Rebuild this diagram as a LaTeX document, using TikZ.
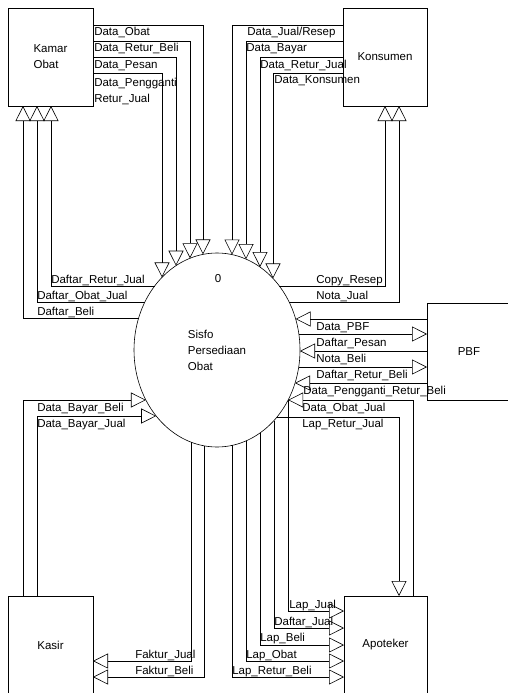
\documentclass[tikz,border=0pt]{standalone}
\usepackage{fontspec}
\setmainfont{Liberation Sans}
\usetikzlibrary{arrows.meta,shapes.geometric}

\begin{document}
\begin{tikzpicture}[x=1pt, y=-1pt, line width=0.6pt,
    font=\fontsize{11.5}{16}\selectfont,
    box/.style={draw, rectangle, minimum width=85pt, minimum height=98pt, inner sep=0pt, outer sep=0pt, align=left},
    proses/.style={draw, ellipse, minimum width=166pt, minimum height=194pt, inner sep=0pt, outer sep=0pt, align=left},
    lbl/.style={anchor=base west, inner sep=0pt},
    flow/.style={-{Triangle[open, length=15pt, width=15pt]}}]

    \clip (0,0) rectangle (508,693);

    % entitas luar
    \node[box] (kamar) at (50.5,57) {Kamar\\Obat};
    \node[box, minimum width=84pt] (konsumen) at (385,57) {Konsumen};
    \node[box, minimum width=84pt, minimum height=97pt] (pbf) at (469,351.5) {PBF};
    \node[box] (kasir) at (50.5,645) {Kasir};
    \node[box, minimum width=83pt] (apoteker) at (385.5,645) {Apoteker};

    % proses
    \node[proses] (proc) at (217,350) {Sisfo\\Persediaan\\Obat};
    \node[anchor=base, inner sep=0pt] (nomor) at (218,282) {0};

    % titik pada tepi proses
    \coordinate (a1) at (162,277.4);
    \coordinate (a2) at (176,265.7);
    \coordinate (a3) at (190,258.3);
    \coordinate (a4) at (203,254.4);
    \coordinate (b1) at (232,254.6);
    \coordinate (b2) at (246,259.1);
    \coordinate (b3) at (260,267);
    \coordinate (b4) at (273,278.4);
    \coordinate (c1) at (154.6,286);
    \coordinate (c2) at (144.9,302);
    \coordinate (c3) at (138.6,318);
    \coordinate (g1) at (145.9,400);
    \coordinate (g2) at (156.2,416);
    \coordinate (d1) at (279.4,286);
    \coordinate (d2) at (289.1,302);
    \coordinate (e1) at (295.6,319);
    \coordinate (e2) at (298.9,334);
    \coordinate (e3) at (300,351);
    \coordinate (e4) at (298.7,367);
    \coordinate (e5) at (295,383);
    \coordinate (e6) at (288.1,400);
    \coordinate (e7) at (277,417);
    \coordinate (h1) at (191,442.1);
    \coordinate (h2) at (204,445.8);
    \coordinate (f1) at (232,445.4);
    \coordinate (f2) at (246,440.9);
    \coordinate (f3) at (260,433);
    \coordinate (f4) at (274,420.5);
    \coordinate (f5) at (288,400.2);

    % Kamar Obat
    \draw[flow] ([yshift=-17pt]kamar.north east) -| (a4);
    \draw[flow] ([yshift=-33pt]kamar.north east) -| (a3);
    \draw[flow] ([yshift=-49pt]kamar.north east) -| (a2);
    \draw[flow] ([yshift=-65pt]kamar.north east) -| (a1);
    \draw[flow] (c1) -| ([xshift=43pt]kamar.south west);
    \draw[flow] (c2) -| ([xshift=29pt]kamar.south west);
    \draw[flow] (c3) -| ([xshift=15pt]kamar.south west);
    \node[lbl] (l1) at (94,36) {Data\_Obat};
    \node[lbl] (l2) at (94,52) {Data\_Retur\_Beli};
    \node[lbl] (l3) at (94,68) {Data\_Pesan};
    \node[lbl, anchor=north west, align=left] (l4) at (94,77.5) {Data\_Pengganti\\Retur\_Jual};
    \node[lbl] (l5) at (51,283) {Daftar\_Retur\_Jual};
    \node[lbl] (l6) at (37,299) {Daftar\_Obat\_Jual};
    \node[lbl] (l7) at (37,315) {Daftar\_Beli};

    % Konsumen
    \draw[flow] ([yshift=-17pt]konsumen.north west) -| (b1);
    \draw[flow] ([yshift=-33pt]konsumen.north west) -| (b2);
    \draw[flow] ([yshift=-49pt]konsumen.north west) -| (b3);
    \draw[flow] ([yshift=-65pt]konsumen.north west) -| (b4);
    \draw[flow] (d1) -| ([xshift=42pt]konsumen.south west);
    \draw[flow] (d2) -| ([xshift=56pt]konsumen.south west);
    \node[lbl] (k1) at (247,36) {Data\_Jual/Resep};
    \node[lbl] (k2) at (246,52) {Data\_Bayar};
    \node[lbl] (k3) at (260,68) {Data\_Retur\_Jual};
    \node[lbl] (k4) at (274,84) {Data\_Konsumen};
    \node[lbl] (k5) at (316,283) {Copy\_Resep};
    \node[lbl] (k6) at (316,299) {Nota\_Jual};

    % PBF
    \draw[flow] ([yshift=-16pt]pbf.north west) -- (e1);
    \draw[flow] (e2) -- ([yshift=-31pt]pbf.north west);
    \draw[flow] ([yshift=-48pt]pbf.north west) -- (e3);
    \draw[flow] (e4) -- ([yshift=-64pt]pbf.north west);
    \draw[flow] ([yshift=-80pt]pbf.north west) -- (e5);
    \node[lbl] (p1) at (316,330) {Data\_PBF};
    \node[lbl] (p2) at (316,346) {Daftar\_Pesan};
    \node[lbl] (p3) at (316,362) {Nota\_Beli};
    \node[lbl] (p4) at (316,378) {Daftar\_Retur\_Beli};
    \node[lbl] (p5) at (303,394) {Data\_Pengganti\_Retur\_Beli};

    % Apoteker
    \draw[flow] ([xshift=69pt]apoteker.north west) |- (e6);
    \draw[flow] (e7) -| ([xshift=55pt]apoteker.north west);
    \draw[flow] (f5) |- ([yshift=-15pt]apoteker.north west);
    \draw[flow] (f4) |- ([yshift=-32pt]apoteker.north west);
    \draw[flow] (f3) |- ([yshift=-49pt]apoteker.north west);
    \draw[flow] (f2) |- ([yshift=-65pt]apoteker.north west);
    \draw[flow] (f1) |- ([yshift=-81pt]apoteker.north west);
    \node[lbl] (t1) at (302,411) {Data\_Obat\_Jual};
    \node[lbl] (t2) at (302,427) {Lap\_Retur\_Jual};
    \node[lbl] (t3) at (289,608) {Lap\_Jual};
    \node[lbl] (t4) at (274,625) {Daftar\_Jual};
    \node[lbl] (t5) at (260,641) {Lap\_Beli};
    \node[lbl] (t6) at (246,658) {Lap\_Obat};
    \node[lbl] (t7) at (232,674) {Lap\_Retur\_Beli};

    % Kasir
    \draw[flow] ([xshift=15pt]kasir.north west) |- (g1);
    \draw[flow] ([xshift=29pt]kasir.north west) |- (g2);
    \draw[flow] (h1) |- ([yshift=-65pt]kasir.north east);
    \draw[flow] (h2) |- ([yshift=-81pt]kasir.north east);
    \node[lbl] (s1) at (37,411) {Data\_Bayar\_Beli};
    \node[lbl] (s2) at (37,427) {Data\_Bayar\_Jual};
    \node[lbl] (s3) at (135,658) {Faktur\_Jual};
    \node[lbl] (s4) at (135,674) {Faktur\_Beli};

\end{tikzpicture}
\end{document}
